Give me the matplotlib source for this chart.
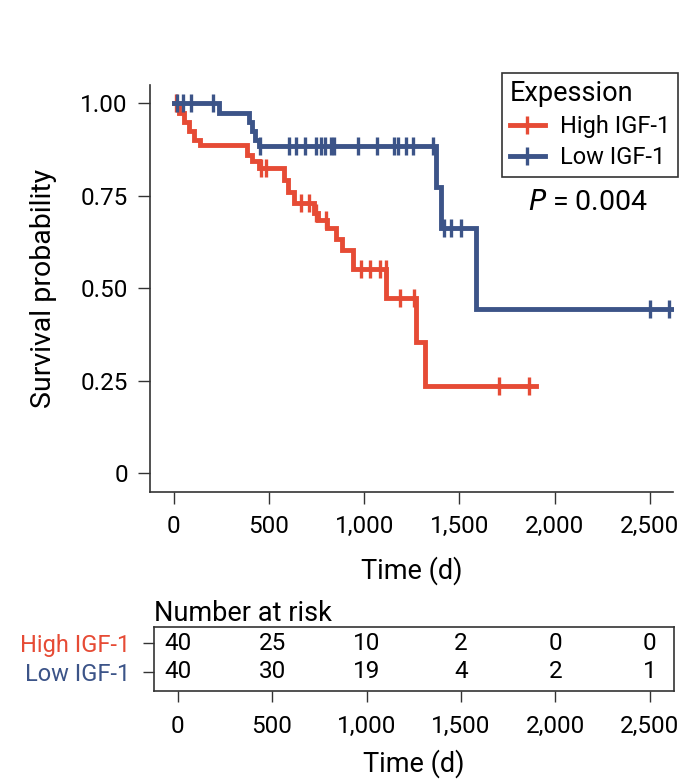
import numpy as np
import matplotlib
matplotlib.use("Agg")
import matplotlib.pyplot as plt
from matplotlib.lines import Line2D

plt.rcParams['font.family'] = ['Roboto', 'DejaVu Sans']

# Kaplan-Meier steps (time in days, survival after step)
high_t = [0, 26, 53, 79, 105, 140, 385, 412, 446, 577, 600, 630, 735, 760, 805,
          850, 884, 940, 1116, 1272, 1318, 1905]
high_s = [1.0, 0.975, 0.95, 0.925, 0.9, 0.887, 0.86, 0.845, 0.825, 0.793, 0.761,
          0.73, 0.703, 0.685, 0.663, 0.633, 0.604, 0.552, 0.474, 0.356, 0.237, 0.237]
high_cens = [10, 456, 482, 666, 710, 745, 798, 986, 1031, 1084, 1114, 1188, 1263,
             1709, 1866]

low_t = [0, 236, 393, 410, 428, 445, 1377, 1403, 1587, 2620]
low_s = [1.0, 0.975, 0.95, 0.925, 0.9, 0.886, 0.775, 0.663, 0.444, 0.444]
low_cens = [15, 50, 88, 207, 455, 605, 640, 687, 748, 772, 793, 825, 839, 968,
            1070, 1158, 1176, 1219, 1254, 1360, 1420, 1456, 1509, 2500, 2600]

risk_times = [0, 500, 1000, 1500, 2000, 2500]
risk_high = [40, 25, 10, 2, 0, 0]
risk_low = [40, 30, 19, 4, 2, 1]

groups = ["High IGF-1", "Low IGF-1"]
RED = "#E64B35"
BLUE = "#3C5488"
AXC = "#333333"

xticks = [0, 500, 1000, 1500, 2000, 2500]
xticklabels = ["0", "500", "1,000", "1,500", "2,000", "2,500"]
yticks = [0, 0.25, 0.5, 0.75, 1.0]
yticklabels = ["0", "0.25", "0.50", "0.75", "1.00"]


def surv_at(t, s, c):
    idx = np.searchsorted(t, c, side='right') - 1
    return np.asarray(s)[idx]


fig = plt.figure(figsize=(6.85, 7.84), dpi=100)
W, H = 685, 784

# main survival axes
ax = fig.add_axes([150 / W, 1 - 491.7 / H, (673.5 - 150) / W, (491.7 - 85) / H])
for t, s, c, col in [(high_t, high_s, high_cens, RED), (low_t, low_s, low_cens, BLUE)]:
    ax.step(t, s, where='post', color=col, lw=3.5, solid_joinstyle='miter')
    ax.plot(c, surv_at(t, s, c), ls='none', marker='|', ms=13, mew=2.4, color=col)

ax.set_xlim(-125, 2625)
ax.set_ylim(-0.05, 1.05)
ax.set_xticks(xticks)
ax.set_xticklabels(xticklabels)
ax.set_yticks(yticks)
ax.set_yticklabels(yticklabels)
ax.tick_params(length=8.5, width=1, color=AXC, labelsize=17.5)
ax.tick_params(axis='x', pad=8.5)
ax.tick_params(axis='y', pad=7.5)
for side in ['top', 'right']:
    ax.spines[side].set_visible(False)
for side in ['left', 'bottom']:
    ax.spines[side].set_color(AXC)
    ax.spines[side].set_linewidth(1.2)
ax.set_xlabel("Time (d)", fontsize=19.5, labelpad=13)
ax.set_ylabel("Survival probability", fontsize=20.5, labelpad=17)

handles = [Line2D([0], [0], color=RED, lw=3.5, marker='|', ms=13, mew=2.4),
           Line2D([0], [0], color=BLUE, lw=3.5, marker='|', ms=13, mew=2.4)]
leg = ax.legend(handles, groups, title="Expession", loc='upper right',
                bbox_to_anchor=(1.009, 1.03), fontsize=17, title_fontsize=19.5,
                frameon=True, fancybox=False, edgecolor='black',
                handlelength=1.5, borderpad=0.32, labelspacing=0.34,
                handletextpad=0.65, borderaxespad=0)
leg._legend_box.align = "left"
leg.get_frame().set_linewidth(1.2)
fig.text(588 / W, 1 - 202 / H, r"$\it{P}$ = 0.004", fontsize=20.5,
         ha='center', va='center')

# number at risk table
rax = fig.add_axes([154 / W, 1 - 690.7 / H, (673.5 - 154) / W, (690.7 - 627.3) / H])
rax.set_xlim(-125, 2625)
rax.set_ylim(-0.66, 1.55)
for y, vals in [(1, risk_high), (0, risk_low)]:
    for x, v in zip(risk_times, vals):
        rax.text(x, y, str(v), ha='center', va='center', fontsize=17.5)
rax.set_yticks([1, 0])
rax.set_yticklabels(groups)
for lab, col in zip(rax.get_yticklabels(), [RED, BLUE]):
    lab.set_color(col)
rax.set_xticks(xticks)
rax.set_xticklabels(xticklabels)
rax.tick_params(length=8, width=1, color=AXC, labelsize=17.5)
rax.tick_params(axis='x', pad=9.5)
rax.tick_params(axis='y', pad=9, labelsize=17)
for sp in rax.spines.values():
    sp.set_color(AXC)
    sp.set_linewidth(1.2)
rax.set_xlabel("Time (d)", fontsize=19.5, labelpad=8)
rax.set_title("Number at risk", loc='left', fontsize=19.5, pad=3)

fig.savefig("out.png", dpi=100)
